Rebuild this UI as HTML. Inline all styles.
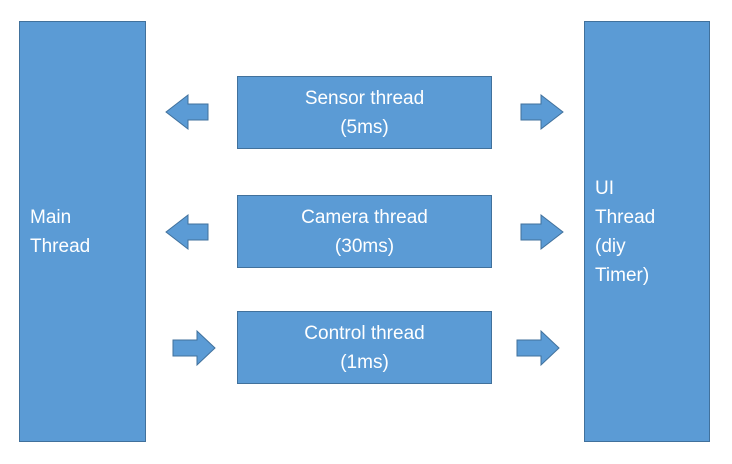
<!DOCTYPE html><html><head><style>
body{margin:0;width:732px;height:464px;background:#fff;position:relative;font-family:"Liberation Sans",sans-serif;overflow:hidden}
.r{position:absolute;background:#5b9bd5;border:1px solid #41719c;box-sizing:border-box;color:#fff;font-size:19px;line-height:29px}
.c{display:flex;align-items:center;justify-content:center;text-align:center}
svg{position:absolute;left:0;top:0}
</style></head><body>
<div class="r" style="left:19px;top:21px;width:127px;height:421px;display:flex;align-items:center;padding-left:10px">Main<br>Thread</div>
<div class="r" style="left:584px;top:21px;width:126px;height:421px;display:flex;align-items:center;padding-left:10px">UI<br>Thread<br>(diy<br>Timer)</div>
<div class="r c" style="left:237px;top:76px;width:255px;height:73px">Sensor thread<br>(5ms)</div>
<div class="r c" style="left:237px;top:195px;width:255px;height:73px">Camera thread<br>(30ms)</div>
<div class="r c" style="left:237px;top:311px;width:255px;height:73px">Control thread<br>(1ms)</div>
<svg width="732" height="464" fill="#5b9bd5" stroke="#41719c" stroke-width="1">
<polygon points="166,112 188,95 188,104 208,104 208,120 188,120 188,129"/>
<polygon points="563,112 541,95 541,104 521,104 521,120 541,120 541,129"/>
<polygon points="166,232 188,215 188,224 208,224 208,240 188,240 188,249"/>
<polygon points="563,232 541,215 541,224 521,224 521,240 541,240 541,249"/>
<polygon points="215,348 197,331 197,340 173,340 173,356 197,356 197,365"/>
<polygon points="559,348 541,331 541,340 517,340 517,356 541,356 541,365"/>
</svg>
</body></html>
